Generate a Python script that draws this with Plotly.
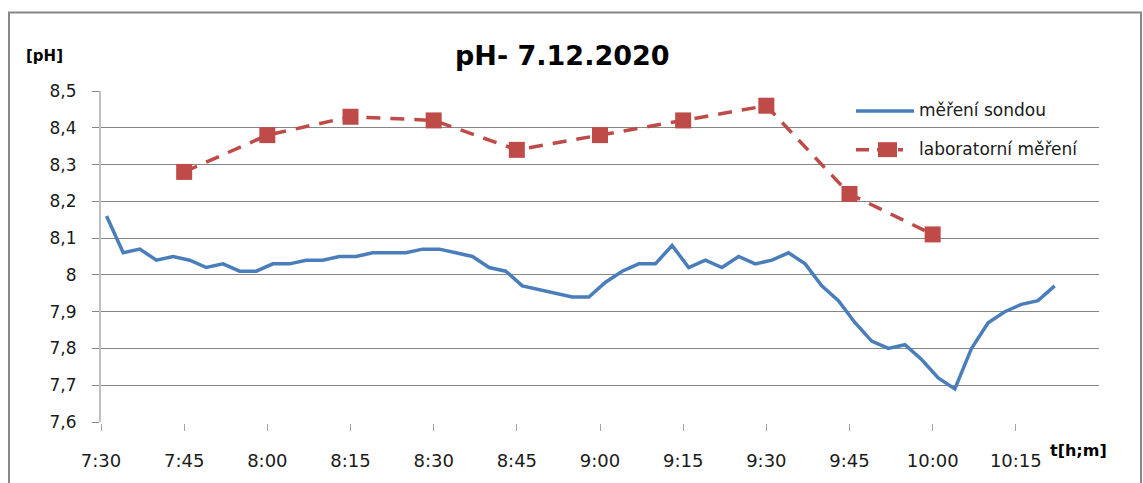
import plotly.graph_objects as go

DAY = "2020-12-07 "

# probe readings (měření sondou), every 3 minutes
probe_times = [
    "07:31", "07:34", "07:37", "07:40", "07:43", "07:46", "07:49", "07:52", "07:55", "07:58",
    "08:01", "08:04", "08:07", "08:10", "08:13", "08:16", "08:19", "08:22", "08:25", "08:28",
    "08:31", "08:34", "08:37", "08:40", "08:43", "08:46", "08:49", "08:52", "08:55", "08:58",
    "09:01", "09:04", "09:07", "09:10", "09:13", "09:16", "09:19", "09:22", "09:25", "09:28",
    "09:31", "09:34", "09:37", "09:40", "09:43", "09:46", "09:49", "09:52", "09:55", "09:58",
    "10:01", "10:04", "10:07", "10:10", "10:13", "10:16", "10:19", "10:22",
]
probe_ph = [
    8.16, 8.06, 8.07, 8.04, 8.05, 8.04, 8.02, 8.03, 8.01, 8.01,
    8.03, 8.03, 8.04, 8.04, 8.05, 8.05, 8.06, 8.06, 8.06, 8.07,
    8.07, 8.06, 8.05, 8.02, 8.01, 7.97, 7.96, 7.95, 7.94, 7.94,
    7.98, 8.01, 8.03, 8.03, 8.08, 8.02, 8.04, 8.02, 8.05, 8.03,
    8.04, 8.06, 8.03, 7.97, 7.93, 7.87, 7.82, 7.80, 7.81, 7.77,
    7.72, 7.69, 7.80, 7.87, 7.90, 7.92, 7.93, 7.97,
]

# laboratory measurements (laboratorní měření)
lab_times = ["07:45", "08:00", "08:15", "08:30", "08:45", "09:00", "09:15", "09:30", "09:45", "10:00"]
lab_ph = [8.28, 8.38, 8.43, 8.42, 8.34, 8.38, 8.42, 8.46, 8.22, 8.11]

x_ticks = ["07:30", "07:45", "08:00", "08:15", "08:30", "08:45", "09:00", "09:15",
           "09:30", "09:45", "10:00", "10:15"]
y_ticks = [7.6, 7.7, 7.8, 7.9, 8.0, 8.1, 8.2, 8.3, 8.4, 8.5]
y_tick_text = ["7,6", "7,7", "7,8", "7,9", "8", "8,1", "8,2", "8,3", "8,4", "8,5"]

BLUE = "#4A7EBB"
RED = "#BE4B48"
GRID = "#868686"
FONT = "DejaVu Sans"

W, H = 1143, 483
L, R, T, B = 101, 44, 91, 59
PW, PH = W - L - R, H - T - B


def px(xp):
    return (xp - L) / PW


def py(yp):
    return (H - B - yp) / PH


fig = go.Figure()
fig.add_trace(go.Scatter(
    x=[DAY + t for t in probe_times], y=probe_ph, mode="lines",
    line=dict(color=BLUE, width=3.5), name="měření sondou", showlegend=False,
))
fig.add_trace(go.Scatter(
    x=[DAY + t for t in lab_times], y=lab_ph, mode="lines+markers",
    line=dict(color=RED, width=3.5, dash="14px,10px"),
    marker=dict(symbol="square", size=16, color=RED),
    name="laboratorní měření", showlegend=False,
))

shapes = [
    # chart border
    dict(type="rect", xref="paper", yref="paper", x0=px(9), x1=px(1141), y0=py(12), y1=py(495),
         line=dict(color="#878787", width=2), fillcolor="rgba(0,0,0,0)", layer="below"),
    # legend keys
    dict(type="line", xref="paper", yref="paper", x0=px(856), x1=px(914), y0=py(111), y1=py(111),
         line=dict(color=BLUE, width=3.5)),
    dict(type="line", xref="paper", yref="paper", x0=px(856), x1=px(903), y0=py(150), y1=py(150),
         line=dict(color=RED, width=3.5, dash="13px,8px")),
    dict(type="rect", xref="paper", yref="paper", x0=px(878), x1=px(897), y0=py(142.5), y1=py(157.5),
         line=dict(width=0), fillcolor=RED),
]

annotations = [
    dict(text="<b>pH- 7.12.2020</b>", xref="paper", yref="paper", x=px(562), y=py(55),
         xanchor="center", yanchor="middle", showarrow=False,
         font=dict(family=FONT, size=27, color="#000000")),
    dict(text="<b>[pH]</b>", xref="paper", yref="paper", x=px(44), y=py(56),
         xanchor="center", yanchor="middle", showarrow=False,
         font=dict(family=FONT, size=15, color="#000000")),
    dict(text="<b>t[h;m]</b>", xref="paper", yref="paper", x=px(1078), y=py(453),
         xanchor="center", yanchor="middle", showarrow=False,
         font=dict(family=FONT, size=16, color="#000000")),
    dict(text="měření sondou", xref="paper", yref="paper", x=px(917), y=py(110),
         xanchor="left", yanchor="middle", showarrow=False,
         font=dict(family=FONT, size=17, color="#1a1a1a")),
    dict(text="laboratorní měření", xref="paper", yref="paper", x=px(917), y=py(149),
         xanchor="left", yanchor="middle", showarrow=False,
         font=dict(family=FONT, size=17, color="#1a1a1a")),
]

fig.update_layout(
    width=W, height=H,
    margin=dict(l=L, r=R, t=T, b=B),
    paper_bgcolor="white", plot_bgcolor="white",
    font=dict(family=FONT, color="#1a1a1a"),
    shapes=shapes, annotations=annotations,
    xaxis=dict(
        type="date", range=[DAY + "07:30", DAY + "10:30"],
        tickvals=[DAY + t for t in x_ticks], tickformat="%-H:%M",
        showgrid=False, zeroline=False,
        showline=True, linecolor="white", linewidth=2,
        ticks="outside", ticklen=7, tickcolor="#A6A6A6", tickwidth=1,
        tickfont=dict(family=FONT, size=18, color="#1a1a1a"),
        ticklabelstandoff=14,
    ),
    yaxis=dict(
        range=[7.6, 8.5], tickvals=y_ticks, ticktext=y_tick_text,
        showgrid=True, gridcolor=GRID, gridwidth=1, zeroline=False,
        showline=True, linecolor="#C0C0C0", linewidth=2,
        ticks="outside", ticklen=7, tickcolor=GRID, tickwidth=1,
        tickfont=dict(family=FONT, size=17, color="#1a1a1a"),
        ticklabelstandoff=12,
    ),
)

fig.write_html("out.html")
